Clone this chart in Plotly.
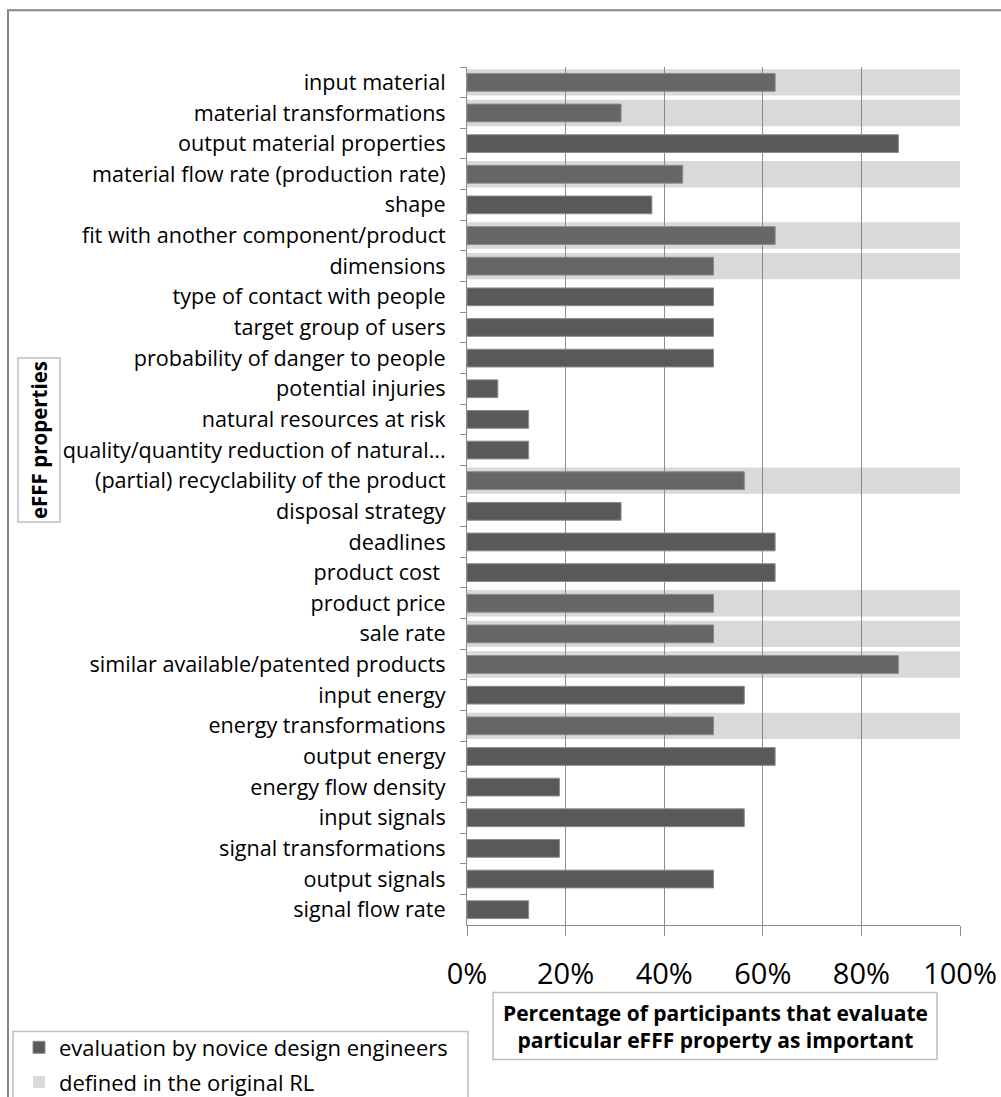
import plotly.graph_objects as go

categories = [
    "input material",
    "material transformations",
    "output material properties",
    "material flow rate (production rate)",
    "shape",
    "fit with another component/product",
    "dimensions",
    "type of contact with people",
    "target group of users",
    "probability of danger to people",
    "potential injuries",
    "natural resources at risk",
    "quality/quantity reduction of natural...",
    "(partial) recyclability of the product",
    "disposal strategy",
    "deadlines",
    "product cost ",
    "product price",
    "sale rate",
    "similar available/patented products",
    "input energy",
    "energy transformations",
    "output energy",
    "energy flow density",
    "input signals",
    "signal transformations",
    "output signals",
    "signal flow rate",
]

novice_values = [
    0.625, 0.3125, 0.875, 0.4375, 0.375, 0.625, 0.50, 0.50, 0.50, 0.50,
    0.0625, 0.125, 0.125, 0.5625, 0.3125, 0.625, 0.625, 0.50, 0.50, 0.875,
    0.5625, 0.50, 0.625, 0.1875, 0.5625, 0.1875, 0.50, 0.125,
]

original_rl_values = [
    1, 1, 0, 1, 0, 1, 1, 0, 0, 0,
    0, 0, 0, 1, 0, 0, 0, 1, 1, 1,
    0, 1, 0, 0, 0, 0, 0, 0,
]

x_tick_values = [0, 0.2, 0.4, 0.6, 0.8, 1.0]
x_tick_labels = ["0%", "20%", "40%", "60%", "80%", "100%"]

series_names = ["evaluation by novice design engineers", "defined in the original RL"]
x_title = "Percentage of participants that evaluate<br>particular eFFF property as important"
y_title = "eFFF properties"

FONT = "Open Sans"
W, H = 1001, 1097
L, R, T, B = 467, 960, 66.7, 925.4


def px(xp):
    return (xp - L) / (R - L)


def py(yp):
    return (B - yp) / (B - T)


fig = go.Figure()
fig.add_trace(go.Bar(
    y=categories, x=novice_values, orientation="h", name=series_names[0],
    legendgroup="a", width=0.58,
    marker=dict(color="#595959", line=dict(color="#8c8c8c", width=1)),
))
fig.add_trace(go.Bar(
    y=categories, x=original_rl_values, orientation="h", name=series_names[1],
    legendgroup="b", width=0.86,
    marker=dict(color="rgba(131,131,131,0.31)", line=dict(width=0)),
))

fig.update_layout(
    width=W, height=H,
    barmode="overlay",
    plot_bgcolor="white", paper_bgcolor="white",
    margin=dict(l=L, r=W - R, t=T, b=H - B, pad=0, autoexpand=False),
    font=dict(family=FONT, color="#000000"),
    showlegend=True,
    legend=dict(
        x=px(19), y=py(1027), xanchor="left", yanchor="top",
        font=dict(family=FONT, size=22, color="#000000"),
        bgcolor="rgba(0,0,0,0)", borderwidth=0,
        tracegroupgap=3, itemwidth=30,
    ),
    xaxis=dict(
        range=[0, 1], tickvals=x_tick_values, ticktext=x_tick_labels,
        showgrid=True, gridcolor="#8c8c8c", gridwidth=1,
        showline=True, linecolor="#8c8c8c", linewidth=1,
        ticks="outside", ticklen=10, tickcolor="#8c8c8c",
        tickfont=dict(family=FONT, size=29, color="#000000"),
        ticklabelstandoff=13, automargin=False,
        zeroline=False, fixedrange=True,
    ),
    yaxis=dict(
        categoryorder="array", categoryarray=categories,
        autorange="reversed",
        showline=True, linecolor="#8c8c8c", linewidth=1,
        ticks="outside", ticklen=6, tickcolor="#8c8c8c",
        tickson="boundaries",
        tickfont=dict(family=FONT, size=21.6, color="#000000"),
        ticklabelstandoff=16, automargin=False,
        showgrid=False, fixedrange=True,
    ),
    shapes=[
        # outer chart border
        dict(type="rect", xref="paper", yref="paper",
             x0=px(8), x1=px(1100), y0=py(1200), y1=py(10),
             line=dict(color="#868686", width=2), fillcolor="rgba(0,0,0,0)", layer="below"),
        # y title box
        dict(type="rect", xref="paper", yref="paper",
             x0=px(18), x1=px(60), y0=py(522), y1=py(358),
             line=dict(color="#bfbfbf", width=1.5), fillcolor="white"),
        # x title box
        dict(type="rect", xref="paper", yref="paper",
             x0=px(493), x1=px(937), y0=py(1060), y1=py(993),
             line=dict(color="#bfbfbf", width=1.5), fillcolor="white"),
        # legend box
        dict(type="rect", xref="paper", yref="paper",
             x0=px(13), x1=px(468), y0=py(1200), y1=py(1032),
             line=dict(color="#bfbfbf", width=1.5), fillcolor="rgba(0,0,0,0)"),
    ],
    annotations=[
        dict(text="<b>" + y_title + "</b>", xref="paper", yref="paper",
             x=px(39), y=py(440), textangle=-90, showarrow=False,
             xanchor="center", yanchor="middle",
             font=dict(family=FONT, size=20.5, color="#000000")),
        dict(text="<b>" + x_title + "</b>", xref="paper", yref="paper",
             x=px(715), y=py(1026.5), showarrow=False,
             xanchor="center", yanchor="middle", align="center",
             font=dict(family=FONT, size=21, color="#000000")),
    ],
)

fig.write_html("out.html", config={"displayModeBar": False},
               post_script="document.body.style.margin='0';")
